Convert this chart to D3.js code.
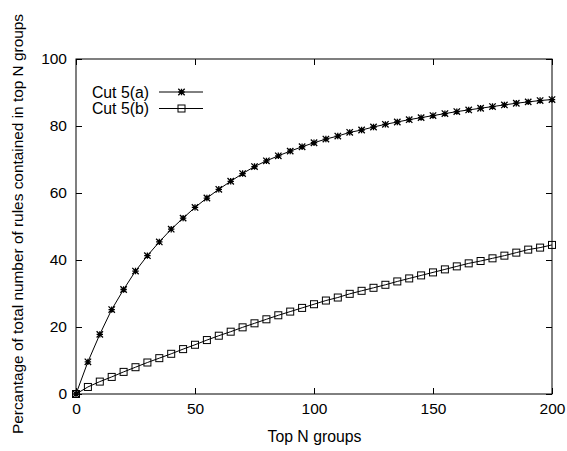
<!DOCTYPE html>
<html>
<head>
<meta charset="utf-8">
<script src="https://cdn.jsdelivr.net/npm/d3@7"></script>
<style>
  body { margin: 0; background: #fff; }
  text { font-family: "Liberation Sans", Arial, sans-serif; fill: #000; }
</style>
</head>
<body>
<div id="chart"></div>
<script>
const topN = d3.range(0, 201, 5);
const cutA = [0, 9.6, 17.8, 25.2, 31.2, 36.7, 41.3, 45.4, 49.2, 52.5, 55.7, 58.5, 61.1, 63.5, 65.8,
  67.9, 69.6, 71.1, 72.5, 73.8, 75.0, 76.1, 77.0, 78.1, 78.8, 79.7, 80.5, 81.2, 81.9, 82.5,
  83.1, 83.7, 84.3, 84.8, 85.3, 85.8, 86.3, 86.8, 87.2, 87.6, 87.9];
const cutB = [0, 2.1, 3.7, 5.1, 6.6, 8.0, 9.4, 10.7, 12.0, 13.4, 14.7, 16.1, 17.4, 18.6, 19.9,
  21.1, 22.3, 23.5, 24.6, 25.7, 26.8, 27.9, 28.8, 29.9, 30.8, 31.7, 32.6, 33.6, 34.5, 35.4,
  36.3, 37.2, 38.1, 39.0, 39.7, 40.5, 41.3, 42.2, 43.1, 43.7, 44.5];
const xTicks = [0, 50, 100, 150, 200];
const yTicks = [0, 20, 40, 60, 80, 100];
const seriesNames = ["Cut 5(a)", "Cut 5(b)"];

const W = 567, H = 451;
const margin = {top: 59, right: 15, bottom: 57, left: 76};
const width = W - margin.left - margin.right;
const height = H - margin.top - margin.bottom;

const svg = d3.select('#chart').append('svg')
  .attr('width', W).attr('height', H);
const g = svg.append('g').attr('transform', `translate(${margin.left},${margin.top})`);

const x = d3.scaleLinear().domain([0, 200]).range([0, width]);
const y = d3.scaleLinear().domain([0, 100]).range([height, 0]);

// frame
g.append('rect').attr('width', width).attr('height', height)
  .attr('fill', 'none').attr('stroke', '#000').attr('stroke-width', 1);

const styleAxis = sel => {
  sel.select('.domain').remove();
  sel.selectAll('text').style('font-size', '15.5px').style('font-family', '"Liberation Sans", Arial, sans-serif');
  sel.selectAll('line').attr('stroke', '#000');
};

g.append('g').attr('transform', `translate(0,${height})`)
  .call(d3.axisBottom(x).tickValues(xTicks).tickSize(-6).tickPadding(9))
  .call(styleAxis);
g.append('g')
  .call(d3.axisTop(x).tickValues(xTicks).tickSize(-6).tickFormat(''))
  .call(styleAxis);
g.append('g')
  .call(d3.axisLeft(y).tickValues(yTicks).tickSize(-6).tickPadding(9))
  .call(styleAxis);
g.append('g').attr('transform', `translate(${width},0)`)
  .call(d3.axisRight(y).tickValues(yTicks).tickSize(-6).tickFormat(''))
  .call(styleAxis);

// axis titles
g.append('text').attr('x', width / 2 + 0.5).attr('y', height + 48)
  .attr('text-anchor', 'middle').style('font-size', '15.8px').text('Top N groups');
svg.append('text')
  .attr('transform', `translate(22.5,224) rotate(-90)`)
  .attr('text-anchor', 'middle').style('font-size', '15.4px')
  .text('Percantage of total number of rules contained in top N groups');

const line = d3.line().x(d => x(d[0])).y(d => y(d[1]));
const dataA = topN.map((n, i) => [n, cutA[i]]);
const dataB = topN.map((n, i) => [n, cutB[i]]);

const star = (sel, cx, cy) => {
  const s = 3.2;
  sel.append('path')
    .attr('d', `M${cx - s},${cy}H${cx + s}M${cx},${cy - s}V${cy + s}` +
      `M${cx - s},${cy - s}L${cx + s},${cy + s}M${cx - s},${cy + s}L${cx + s},${cy - s}`)
    .attr('stroke', '#000').attr('stroke-width', 1.3).attr('fill', 'none');
};
const square = (sel, cx, cy) => {
  sel.append('rect').attr('x', cx - 3.5).attr('y', cy - 3.5)
    .attr('width', 7).attr('height', 7)
    .attr('fill', 'none').attr('stroke', '#000').attr('stroke-width', 1);
};

g.append('path').datum(dataA).attr('d', line)
  .attr('fill', 'none').attr('stroke', '#000').attr('stroke-width', 1);
g.append('path').datum(dataB).attr('d', line)
  .attr('fill', 'none').attr('stroke', '#000').attr('stroke-width', 1);

const marksA = g.append('g');
dataA.forEach(d => star(marksA, x(d[0]), y(d[1])));
const marksB = g.append('g');
dataB.forEach(d => square(marksB, x(d[0]), y(d[1])));

// legend
const legend = svg.append('g');
const markers = [star, square];
seriesNames.forEach((name, i) => {
  const ly = 92 + i * 16.5;
  legend.append('text').attr('x', 149).attr('y', ly + 5.5)
    .attr('text-anchor', 'end').style('font-size', '15.8px').text(name);
  legend.append('line').attr('x1', 159).attr('x2', 203).attr('y1', ly).attr('y2', ly)
    .attr('stroke', '#000').attr('stroke-width', 1);
  markers[i](legend, 181.5, ly);
});
</script>
</body>
</html>
